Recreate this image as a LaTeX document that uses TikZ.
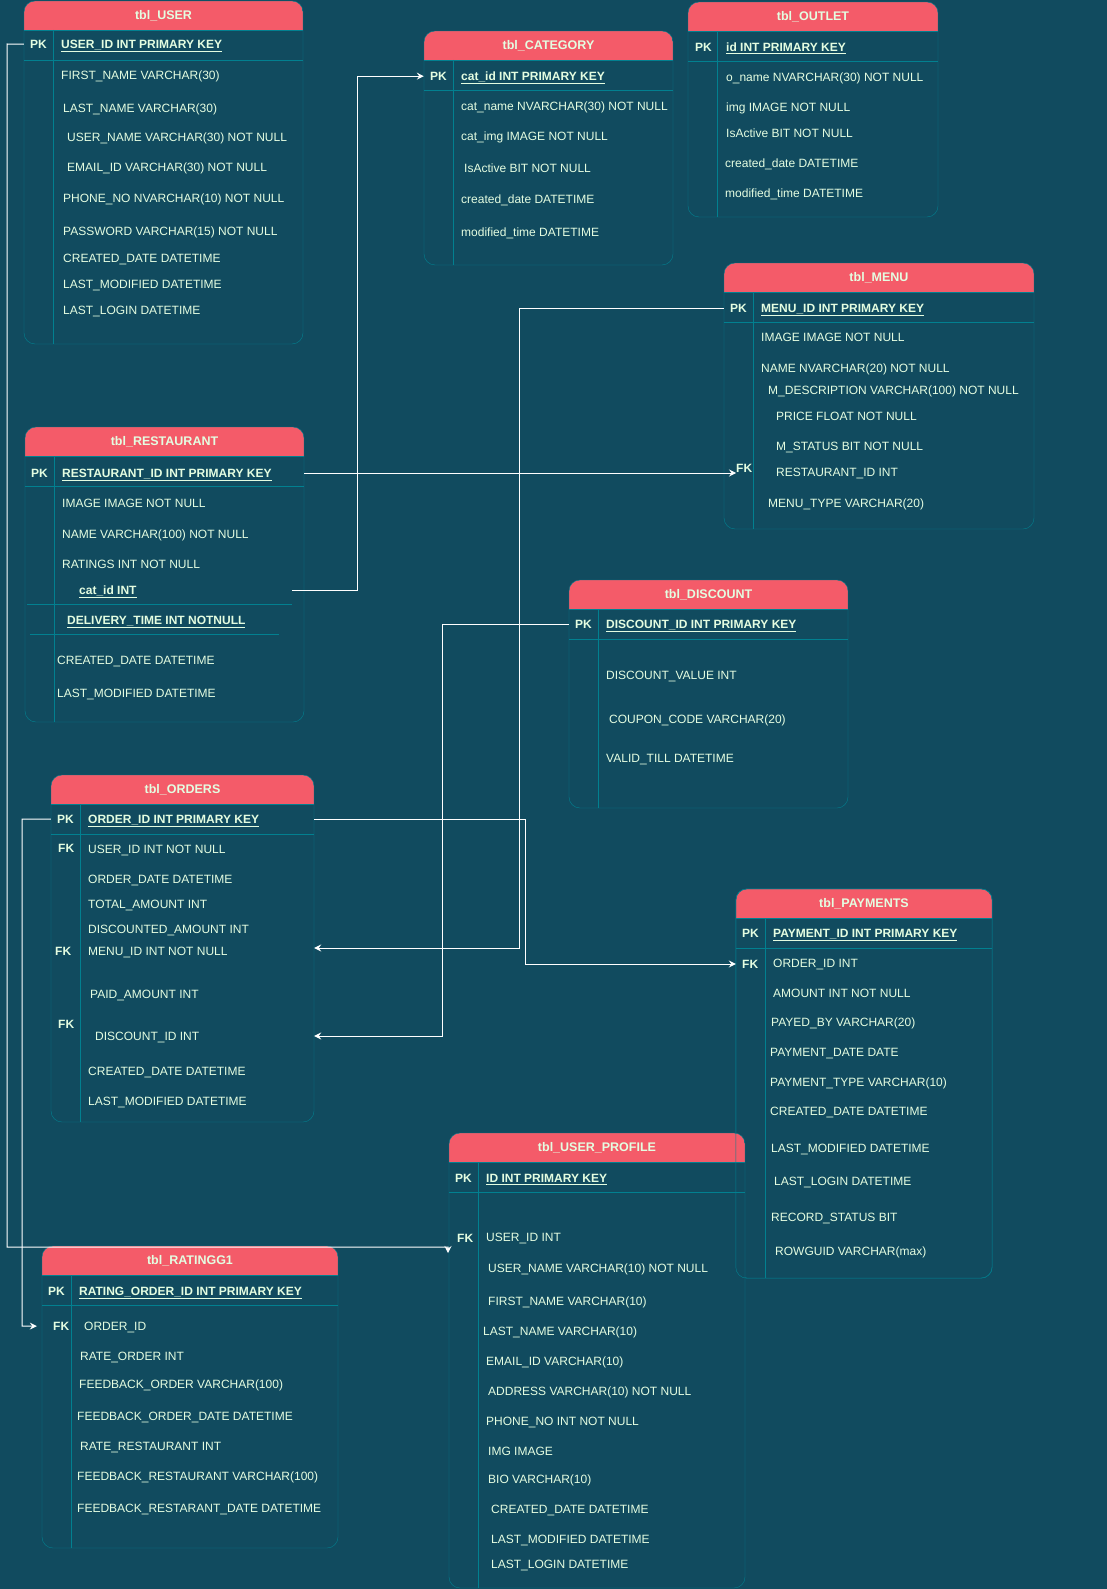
\documentclass[tikz,border=0pt]{standalone}
\usepackage{fontspec}
\setmainfont{Liberation Sans}
\usetikzlibrary{positioning, arrows.meta, fit}
\definecolor{erbg}{HTML}{114B5F}
\definecolor{erhead}{HTML}{F45B69}
\definecolor{erline}{HTML}{028090}
\definecolor{ertext}{HTML}{E4FDE1}

\tikzset{
  txt/.style={anchor=base west, inner sep=0pt, yshift=-4.3pt, text=ertext, font=\fontsize{12}{14}\selectfont},
  key/.style={txt, font=\fontsize{12}{14}\selectfont\bfseries},
  title/.style={key, anchor=base, font=\fontsize{12.5}{14}\selectfont\bfseries},
  rel/.style={draw=white, line width=1pt, -{Stealth[length=7pt, width=7pt, inset=2.5pt]}}
}

\newcommand\ertable[6]{%
  \node[fit={(#2,#3) (#4,#5)}, inner sep=0pt] (#1) {};
  \begin{scope}
    \clip[rounded corners=11pt] (#2,#3) rectangle (#4,#5);
    \fill[erbg] (#2,#3) rectangle (#4,#5);
    \fill[erhead] (#2,#3) rectangle (#4,#3+29);
    \draw[erline] (#2,#3+29) -- (#4,#3+29) (#2,#3+59) -- (#4,#3+59) (#2+29.5,#3+29) -- (#2+29.5,#5);
  \end{scope}
  \draw[erline, rounded corners=11pt] (#2,#3) rectangle (#4,#5);
  \node[title] (#1-title) at ({(#2+#4)/2},#3+14.5) {#6};
}

\begin{document}
\begin{tikzpicture}[x=1pt, y=-1pt]
\useasboundingbox (0,0) rectangle (1107,1589);
\fill[erbg] (0,0) rectangle (1107,1589);

\ertable{usr}{24}{1}{303}{344}{tbl\_USER}
\node[key] (usr-pk) at (30,44) {PK};
\node[key] (usr-id) at (61,44) {\underline{USER\_ID INT PRIMARY KEY}};
\foreach \y/\x/\t in {75/61/FIRST\_NAME VARCHAR(30), 108/63/LAST\_NAME VARCHAR(30),
    137/67/USER\_NAME VARCHAR(30) NOT NULL, 167/67/EMAIL\_ID VARCHAR(30) NOT NULL,
    198/63/PHONE\_NO NVARCHAR(10) NOT NULL, 231/63/PASSWORD VARCHAR(15) NOT NULL,
    258/63/CREATED\_DATE DATETIME, 284/63/LAST\_MODIFIED DATETIME, 310/63/LAST\_LOGIN DATETIME}
  \node[txt] (usr-\y) at (\x,\y) {\t};

\ertable{cat}{424}{31}{673}{265}{tbl\_CATEGORY}
\node[key] (cat-pk) at (430,76) {PK};
\node[key] (cat-id) at (461,76) {\underline{cat\_id INT PRIMARY KEY}};
\foreach \y/\x/\t in {106/461/cat\_name NVARCHAR(30) NOT NULL, 136/461/cat\_img IMAGE NOT NULL,
    168/464/IsActive BIT NOT NULL, 199/461/created\_date DATETIME, 232/461/modified\_time DATETIME}
  \node[txt] (cat-\y) at (\x,\y) {\t};

\ertable{out}{688}{2}{938}{217}{tbl\_OUTLET}
\node[key] (out-pk) at (695,47) {PK};
\node[key] (out-id) at (726,47) {\underline{id INT PRIMARY KEY}};
\foreach \y/\x/\t in {77/726/o\_name NVARCHAR(30) NOT NULL, 107/726/img IMAGE NOT NULL,
    133/726/IsActive BIT NOT NULL, 163/725/created\_date DATETIME, 193/725/modified\_time DATETIME}
  \node[txt] (out-\y) at (\x,\y) {\t};

\ertable{mnu}{724}{263}{1034}{529}{tbl\_MENU}
\node[key] (mnu-pk) at (730,308) {PK};
\node[key] (mnu-id) at (761,308) {\underline{MENU\_ID INT PRIMARY KEY}};
\node[key] (mnu-fk) at (736,468) {FK};
\foreach \y/\x/\t in {337/761/IMAGE IMAGE NOT NULL, 368/761/NAME NVARCHAR(20) NOT NULL,
    390/768/M\_DESCRIPTION VARCHAR(100) NOT NULL, 416/776/PRICE FLOAT NOT NULL,
    446/776/M\_STATUS BIT NOT NULL, 472/776/RESTAURANT\_ID INT, 503/768/MENU\_TYPE VARCHAR(20)}
  \node[txt] (mnu-\y) at (\x,\y) {\t};

\ertable{res}{25}{427}{304}{722}{tbl\_RESTAURANT}
\draw[erline] (27,604) -- (292,604) (30,634) -- (279,634);
\node[key] (res-pk) at (31,473) {PK};
\node[key] (res-id) at (62,473) {\underline{RESTAURANT\_ID INT PRIMARY KEY}};
\node[key] (res-cat) at (79,590) {\underline{cat\_id INT}};
\node[key] (res-dt) at (67,620) {\underline{DELIVERY\_TIME INT NOTNULL}};
\foreach \y/\x/\t in {503/62/IMAGE IMAGE NOT NULL, 534/62/NAME VARCHAR(100) NOT NULL,
    564/62/RATINGS INT NOT NULL, 660/57/CREATED\_DATE DATETIME, 693/57/LAST\_MODIFIED DATETIME}
  \node[txt] (res-\y) at (\x,\y) {\t};

\ertable{dis}{569}{580}{848}{808}{tbl\_DISCOUNT}
\node[key] (dis-pk) at (575,624) {PK};
\node[key] (dis-id) at (606,624) {\underline{DISCOUNT\_ID INT PRIMARY KEY}};
\foreach \y/\x/\t in {675/606/DISCOUNT\_VALUE INT, 719/609/COUPON\_CODE VARCHAR(20), 758/606/VALID\_TILL DATETIME}
  \node[txt] (dis-\y) at (\x,\y) {\t};

\ertable{ord}{51}{775}{314}{1122}{tbl\_ORDERS}
\node[key] (ord-pk) at (57,819) {PK};
\node[key] (ord-id) at (88,819) {\underline{ORDER\_ID INT PRIMARY KEY}};
\node[key] (ord-fk1) at (58,848) {FK};
\node[key] (ord-fk2) at (55,951) {FK};
\node[key] (ord-fk3) at (58,1024) {FK};
\foreach \y/\x/\t in {849/88/USER\_ID INT NOT NULL, 879/88/ORDER\_DATE DATETIME, 904/88/TOTAL\_AMOUNT INT,
    929/88/DISCOUNTED\_AMOUNT INT, 951/88/MENU\_ID INT NOT NULL, 994/90/PAID\_AMOUNT INT,
    1036/95/DISCOUNT\_ID INT, 1071/88/CREATED\_DATE DATETIME, 1101/88/LAST\_MODIFIED DATETIME}
  \node[txt] (ord-\y) at (\x,\y) {\t};

\ertable{pay}{736}{889}{992}{1278}{tbl\_PAYMENTS}
\node[key] (pay-pk) at (742,933) {PK};
\node[key] (pay-id) at (773,933) {\underline{PAYMENT\_ID INT PRIMARY KEY}};
\node[key] (pay-fk) at (742,964) {FK};
\foreach \y/\x/\t in {963/773/ORDER\_ID INT, 993/773/AMOUNT INT NOT NULL, 1022/771/PAYED\_BY VARCHAR(20),
    1052/770/PAYMENT\_DATE DATE, 1082/770/PAYMENT\_TYPE VARCHAR(10), 1111/770/CREATED\_DATE DATETIME,
    1148/771/LAST\_MODIFIED DATETIME, 1181/774/LAST\_LOGIN DATETIME, 1217/771/RECORD\_STATUS BIT,
    1251/775/ROWGUID VARCHAR(max)}
  \node[txt] (pay-\y) at (\x,\y) {\t};

\ertable{rat}{42}{1246}{338}{1548}{tbl\_RATINGG1}
\node[key] (rat-pk) at (48,1291) {PK};
\node[key] (rat-id) at (79,1291) {\underline{RATING\_ORDER\_ID INT PRIMARY KEY}};
\node[key] (rat-fk) at (53,1326) {FK};
\foreach \y/\x/\t in {1326/84/ORDER\_ID, 1356/80/RATE\_ORDER INT, 1384/79/FEEDBACK\_ORDER VARCHAR(100),
    1416/77/FEEDBACK\_ORDER\_DATE DATETIME, 1446/80/RATE\_RESTAURANT INT,
    1476/77/FEEDBACK\_RESTAURANT VARCHAR(100), 1508/77/FEEDBACK\_RESTARANT\_DATE DATETIME}
  \node[txt] (rat-\y) at (\x,\y) {\t};

\ertable{prf}{449}{1133}{745}{1588}{tbl\_USER\_PROFILE}
\draw[erline, rounded corners=11pt] (pay.north west) rectangle (pay.south east);
\node[key] (prf-pk) at (455,1178) {PK};
\node[key] (prf-id) at (486,1178) {\underline{ID INT PRIMARY KEY}};
\node[key] (prf-fk) at (457,1238) {FK};
\foreach \y/\x/\t in {1237/486/USER\_ID INT, 1268/488/USER\_NAME VARCHAR(10) NOT NULL,
    1301/488/FIRST\_NAME VARCHAR(10), 1331/483/LAST\_NAME VARCHAR(10), 1361/486/EMAIL\_ID VARCHAR(10),
    1391/488/ADDRESS VARCHAR(10) NOT NULL, 1421/486/PHONE\_NO INT NOT NULL, 1451/488/IMG IMAGE,
    1479/488/BIO VARCHAR(10), 1509/491/CREATED\_DATE DATETIME, 1539/491/LAST\_MODIFIED DATETIME,
    1564/491/LAST\_LOGIN DATETIME}
  \node[txt] (prf-\y) at (\x,\y) {\t};

\coordinate (prf-in) at (448,1253);
\coordinate (res-out) at (292,590);
\coordinate (res-row) at (304,473);
\coordinate (mnu-bend) at (519,948);
\coordinate (dis-bend) at (442,1036);
\coordinate (ord-bend) at (525,964);
\draw[rel] (usr.west |- usr-pk) -- (7,44) -- (7,1247) -- (448,1247) -- (prf-in);
\draw[rel, shorten >=5pt] (ord.west |- ord-pk) -- (22,819) -- (22,1326) -- (rat.west |- rat-fk);
\draw[rel] (res-row) -- (mnu-fk.west |- res-row);
\draw[rel] (res-out) -- (357,590) |- (cat.west |- cat-pk);
\draw[rel] (mnu.west |- mnu-pk) -| (mnu-bend) -- (ord.east |- mnu-bend);
\draw[rel] (dis.west |- dis-pk) -| (dis-bend) -- (ord.east |- dis-bend);
\draw[rel] (ord.east |- ord-pk) -| (ord-bend) -- (pay.west |- ord-bend);
\end{tikzpicture}
\end{document}
